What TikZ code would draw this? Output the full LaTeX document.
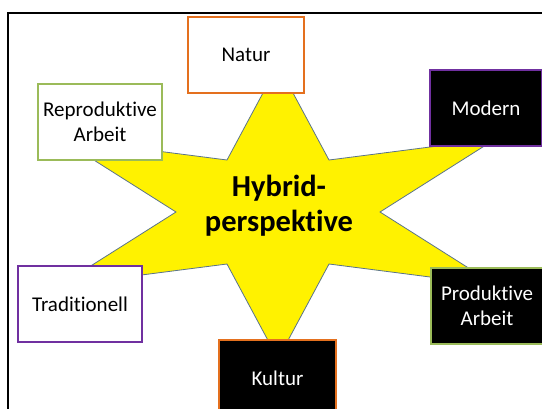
\documentclass[tikz,border=0pt]{standalone}
\usepackage{fontspec}
\setmainfont{Carlito}[RawFeature={-liga;-clig;-dlig;-calt}]
\definecolor{borange}{RGB}{228,112,30}
\definecolor{bgreen}{RGB}{155,187,89}
\definecolor{bpurple}{RGB}{112,48,160}
\definecolor{starline}{RGB}{90,115,140}
\begin{document}
\begin{tikzpicture}[x=1pt,y=-1pt,
  lightbox/.style={draw, line width=1.8pt, fill=white, text=black, align=center,
    inner sep=0pt, font=\fontsize{21}{25}\selectfont},
  darkbox/.style={lightbox, fill=black, text=white}]
\useasboundingbox (0,0) rectangle (542,408);
\clip (0,0) rectangle (542,408);
\draw[line width=2pt] (8,13) rectangle (600,460);
% star
\draw[fill=yellow, draw=starline, line width=0.8pt]
  (278,65) -- (329,160) -- (496.2,138.5) -- (380,212) -- (496.2,285.5) -- (329,264)
  -- (278,359) -- (227,264) -- (59.8,285.5) -- (176,212) -- (59.8,138.5) -- (227,160) -- cycle;
\node[align=center, font=\fontsize{30.5}{35}\selectfont\bfseries] (hybrid) at (279,206) {Hybrid-\\perspektive};
% boxes
\node[lightbox, draw=borange, minimum width=116pt, minimum height=76pt] (natur) at (246,55) {Natur};
\node[lightbox, draw=bgreen, minimum width=124pt, minimum height=76pt] (repro) at (100,122) {Reproduktive\\Arbeit};
\node[darkbox, draw=bpurple, minimum width=112pt, minimum height=76pt] (modern) at (486,108) {Modern};
\node[lightbox, draw=bpurple, minimum width=124pt, minimum height=76pt] (trad) at (80,304) {Traditionell};
\node[darkbox, draw=bgreen, minimum width=112pt, minimum height=76pt] (prod) at (487,306) {Produktive\\Arbeit};
\node[darkbox, draw=borange, minimum width=117pt, minimum height=76pt] (kultur) at (277.5,378) {Kultur};
\end{tikzpicture}
\end{document}
